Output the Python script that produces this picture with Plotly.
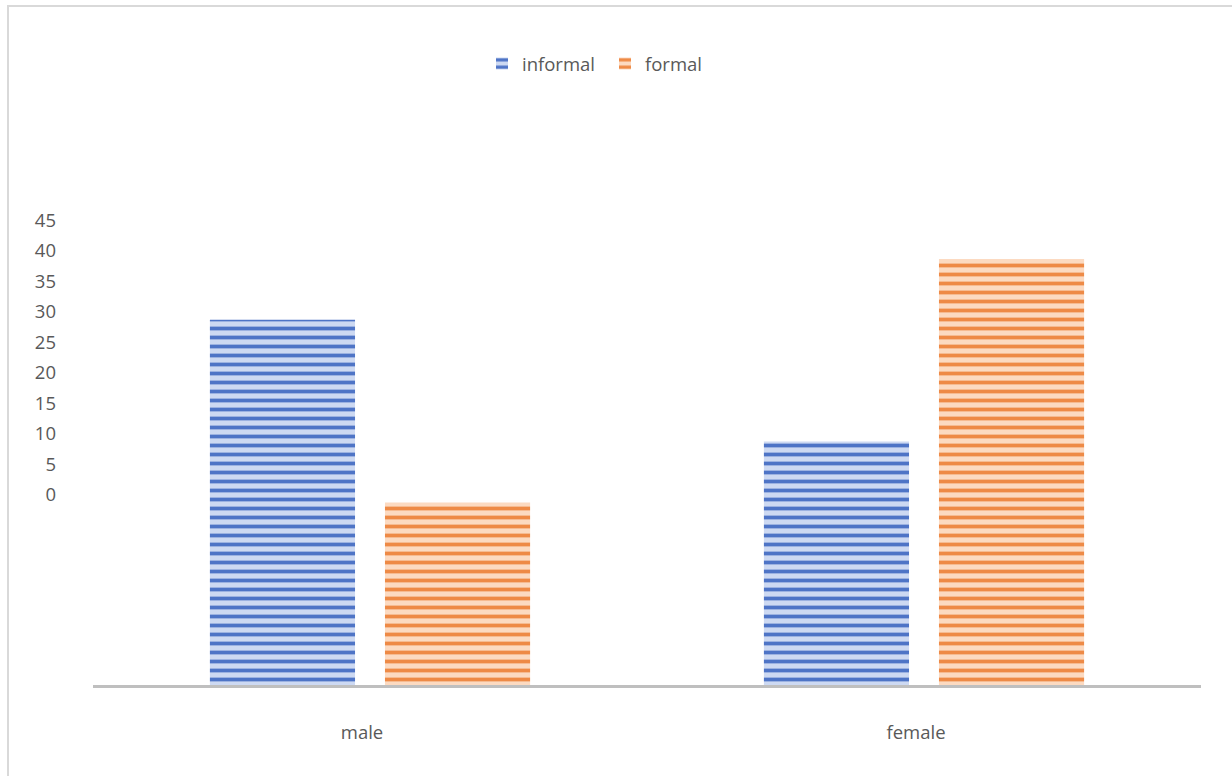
import plotly.graph_objects as go

categories = ["male", "female"]
informal = [60, 40]
formal = [30, 70]
tick_labels = [0, 5, 10, 15, 20, 25, 30, 35, 40, 45]

LABEL_OFFSET = 31.3  # tick labels in the source sit shifted above the baseline
FONT = "Open Sans"
GREY = "#595959"
FS = 18.5

fig = go.Figure()
fig.add_trace(go.Bar(
    name="informal", x=categories, y=informal,
    marker=dict(color="#cdd9f2",
                pattern=dict(shape="-", fgcolor="#4e74c6", bgcolor="#cdd9f2",
                             size=9, solidity=0.42, fillmode="replace"),
                line=dict(width=0)),
))
fig.add_trace(go.Bar(
    name="formal", x=categories, y=formal,
    marker=dict(color="#fcdac1",
                pattern=dict(shape="-", fgcolor="#ee8a46", bgcolor="#fcdac1",
                             size=9, solidity=0.42, fillmode="replace"),
                line=dict(width=0)),
))

W, H = 1232, 776
ml, mr, mt, mb = 93, 31, 198, 91
pw, ph = W - ml - mr, H - mt - mb

def px_x(p):
    return (p - ml) / pw

def px_y(p):
    return (H - mb - p) / ph

fig.update_layout(
    width=W, height=H,
    margin=dict(l=ml, r=mr, t=mt, b=mb),
    paper_bgcolor="white", plot_bgcolor="white",
    barmode="group", bargap=0.368, bargroupgap=0.171,
    font=dict(family=FONT, size=FS, color=GREY),
    showlegend=True,
    legend=dict(orientation="h", x=px_x(482), y=px_y(45), xanchor="left", yanchor="top",
                entrywidth=78, entrywidthmode="pixels",
                font=dict(family=FONT, size=FS, color=GREY), bgcolor="rgba(0,0,0,0)"),
    xaxis=dict(showline=True, linecolor="#bfbfbf", linewidth=3, showgrid=False,
               ticks="", ticklabelstandoff=29, ticklabelshift=-8,
               tickfont=dict(family=FONT, size=FS, color=GREY)),
    yaxis=dict(range=[0, 80], showgrid=False, zeroline=False, showline=False,
               tickmode="array",
               tickvals=[LABEL_OFFSET + v for v in tick_labels],
               ticktext=[str(v) for v in tick_labels],
               ticks="", ticklabelstandoff=36,
               tickfont=dict(family=FONT, size=FS, color=GREY)),
    shapes=[dict(type="rect", xref="paper", yref="paper",
                 x0=px_x(8), x1=px_x(1245), y0=px_y(790), y1=px_y(6),
                 line=dict(color="#d9d9d9", width=2), fillcolor="rgba(0,0,0,0)", layer="below")],
)

fig.write_html("out.html")
